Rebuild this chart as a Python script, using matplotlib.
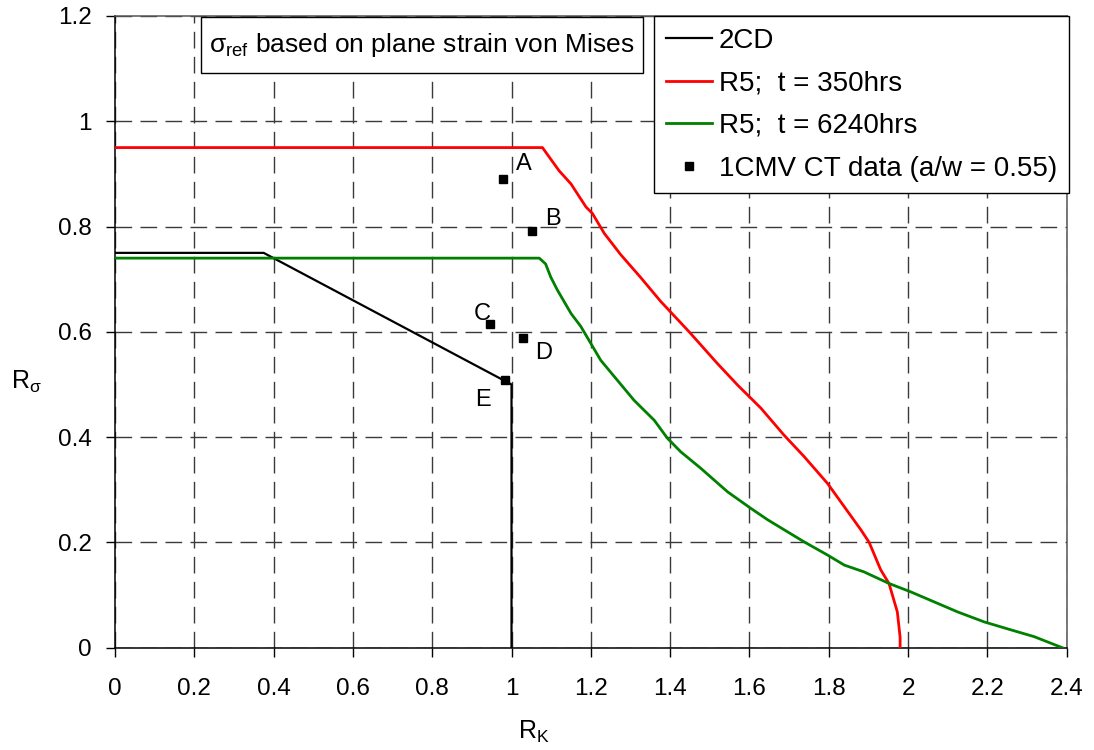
import matplotlib
matplotlib.use("Agg")
import matplotlib.pyplot as plt
from matplotlib.patches import Rectangle

plt.rcParams['font.family'] = ['Liberation Sans', 'DejaVu Sans']
plt.rcParams['mathtext.fontset'] = 'custom'
plt.rcParams['mathtext.rm'] = 'Liberation Sans'
plt.rcParams['mathtext.it'] = 'Liberation Sans:italic'

# ---- data ----
rk_2cd = [0.0, 0.375, 1.0, 1.0]
rs_2cd = [0.75, 0.75, 0.50, 0.0]

rk_350 = [0.0, 1.078, 1.120, 1.150, 1.188, 1.204, 1.234, 1.275, 1.326, 1.376,
          1.448, 1.519, 1.570, 1.629, 1.687, 1.738, 1.797, 1.839, 1.881, 1.902,
          1.931, 1.952, 1.973, 1.980, 1.980]
rs_350 = [0.95, 0.95, 0.906, 0.881, 0.837, 0.825, 0.787, 0.747, 0.703, 0.658,
          0.600, 0.540, 0.499, 0.455, 0.404, 0.363, 0.312, 0.268, 0.224, 0.200,
          0.148, 0.122, 0.068, 0.020, 0.0]

rk_6240 = [0.0, 1.070, 1.086, 1.099, 1.116, 1.150, 1.175, 1.200, 1.225, 1.267,
           1.309, 1.360, 1.393, 1.427, 1.477, 1.545, 1.603, 1.646, 1.738, 1.797,
           1.839, 1.889, 1.952, 2.007, 2.066, 2.125, 2.192, 2.259, 2.318, 2.389]
rs_6240 = [0.74, 0.74, 0.729, 0.704, 0.679, 0.635, 0.610, 0.578, 0.546, 0.508,
           0.470, 0.432, 0.398, 0.372, 0.341, 0.296, 0.265, 0.243, 0.201, 0.176,
           0.157, 0.144, 0.122, 0.106, 0.087, 0.068, 0.049, 0.034, 0.021, 0.0]

pt_labels = ['A', 'B', 'C', 'D', 'E']
pt_rk = [0.978, 1.051, 0.946, 1.030, 0.984]
pt_rs = [0.890, 0.791, 0.615, 0.588, 0.508]
pt_offsets = [(15, 11), (15, 9), (-5.5, 7.5), (14.5, -11), (-16, -14.5)]

series_labels = ['2CD', 'R5;  t = 350hrs', 'R5;  t = 6240hrs',
                 '1CMV CT data (a/w = 0.55)']
xticks = [0, 0.2, 0.4, 0.6, 0.8, 1.0, 1.2, 1.4, 1.6, 1.8, 2.0, 2.2, 2.4]
xtick_labels = ['0', '0.2', '0.4', '0.6', '0.8', '1', '1.2', '1.4', '1.6',
                '1.8', '2', '2.2', '2.4']
yticks = [0, 0.2, 0.4, 0.6, 0.8, 1.0, 1.2]
ytick_labels = ['0', '0.2', '0.4', '0.6', '0.8', '1', '1.2']

FS = 17.5
FS_LEG = 20
FS_BOX = 19

fig = plt.figure(figsize=(10.94, 7.5), dpi=100)
ax = fig.add_axes([0.1051, 0.1364, 0.8699, 0.8423])

ax.set_xlim(0, 2.4)
ax.set_ylim(0, 1.2)
ax.set_xticks(xticks)
ax.set_xticklabels(xtick_labels)
ax.set_yticks(yticks)
ax.set_yticklabels(ytick_labels)
ax.tick_params(axis='both', direction='out', length=6.5, width=1,
               labelsize=FS, colors='black')
ax.tick_params(axis='x', pad=15)
ax.tick_params(axis='y', pad=10)

ax.grid(True, color='#3a3a3a', linewidth=1, linestyle=(0, (12, 6)))
ax.set_axisbelow(True)
for s in ['left', 'bottom']:
    ax.spines[s].set_color('black')
    ax.spines[s].set_linewidth(1.1)
    ax.spines[s].set_zorder(2.5)
for s in ['top', 'right']:
    ax.spines[s].set_color('#555555')
    ax.spines[s].set_linewidth(1.1)

l1, = ax.plot(rk_2cd, rs_2cd, color='black', lw=1.6, label=series_labels[0], zorder=3)
l2, = ax.plot(rk_350, rs_350, color='#ff0000', lw=2.0, label=series_labels[1], zorder=3)
l3, = ax.plot(rk_6240, rs_6240, color='#008000', lw=2.0, label=series_labels[2], zorder=3)
l4, = ax.plot(pt_rk, pt_rs, linestyle='none', marker='s', ms=6, color='black',
              label=series_labels[3], zorder=4)

for lab, x, y, off in zip(pt_labels, pt_rk, pt_rs, pt_offsets):
    ax.annotate(lab, (x, y), xytext=off, textcoords='offset points',
                ha='center', va='center', fontsize=17, zorder=5)

leg = ax.legend(handles=[l1, l2, l3, l4], loc='upper right',
                bbox_to_anchor=(1.0024, 1.0), borderaxespad=0, fontsize=FS_LEG,
                frameon=True, fancybox=False, shadow=False, framealpha=1,
                edgecolor='black', handlelength=1.65, handletextpad=0.27,
                labelspacing=0.6, borderpad=0.42, markerscale=0.85)
leg.get_frame().set_linewidth(1.0)

# annotation box (top-left)
ax.add_patch(Rectangle((0.090, 0.9102), 0.465, 0.0887, transform=ax.transAxes,
                       facecolor='white', edgecolor='black', linewidth=1.0,
                       zorder=5, clip_on=False))
ax.text(0.3226, 0.9546,
        r'$\mathregular{\sigma_{ref}}$ based on plane strain von Mises',
        transform=ax.transAxes, ha='center', va='center', fontsize=FS_BOX,
        zorder=6)

ax.set_xlabel(r'$\mathregular{R_K}$', fontsize=18, va='top')
ax.xaxis.set_label_coords(0.4406, -0.112)
ax.set_ylabel(r'$\mathregular{R_{\sigma}}$', fontsize=18, rotation=0,
              ha='center', va='center')
ax.yaxis.set_label_coords(-0.093, 0.421)

fig.savefig('out.png', dpi=100)
